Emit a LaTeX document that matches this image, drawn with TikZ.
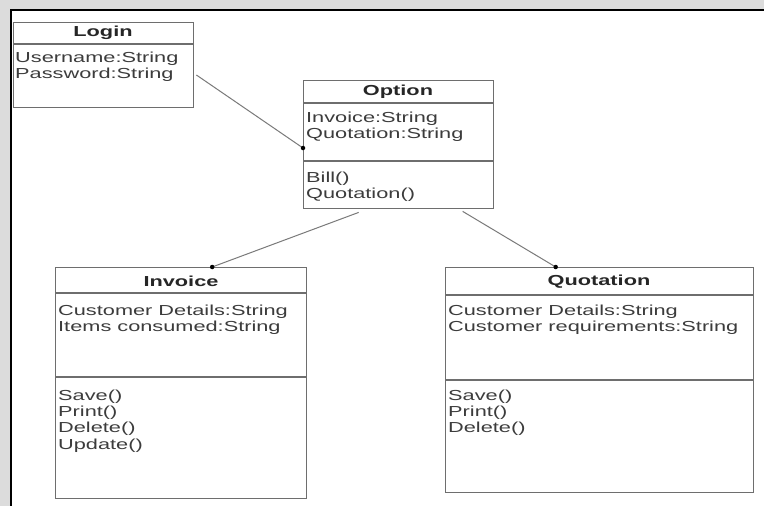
\documentclass[tikz,border=0pt]{standalone}
\usepackage{fontspec}
\setmainfont{Liberation Sans}[FakeStretch=1.5]
\usetikzlibrary{calc}
\definecolor{boxgray}{HTML}{6E6E6E}
\definecolor{txtgray}{HTML}{3C3C3C}
\definecolor{linkgray}{HTML}{7A7A7A}
\definecolor{outergray}{HTML}{DCDCDC}
\begin{document}
\begin{tikzpicture}[x=1pt,y=-1pt,
  box/.style={draw=boxgray, line width=1.4pt, fill=white, anchor=north west, inner sep=0pt},
  sep/.style={draw=boxgray, line width=1.2pt},
  txt/.style={anchor=north west, inner sep=0pt, align=left, text=txtgray, font=\fontsize{14.5}{16.3}\selectfont},
  ttl/.style={inner sep=0pt, text=black!85, font=\bfseries\fontsize{14.5}{16.3}\selectfont},
  link/.style={draw=linkgray, line width=1pt},
  enddot/.style={circle, fill=black, minimum size=4.5pt, inner sep=0pt}]
\useasboundingbox (0,0) rectangle (764,506);
\fill[outergray] (0,0) rectangle (764,506);
\fill[white] (11,10) rectangle (764,506);
\draw[line width=2.2pt] (11,506) -- (11,10) -- (764,10);

% Login
\node[box, minimum width=180pt, minimum height=85pt] (login) at (13,22) {};
\draw[sep] (login.west |- 0,44) -- (login.east |- 0,44);
\node[ttl] (loginT) at (103,33) {Login};
\node[txt] (loginA) at (15,51.5) {Username:String\\Password:String};

% Option
\node[box, minimum width=190pt, minimum height=128pt] (option) at (303,80) {};
\draw[sep] (option.west |- 0,103) -- (option.east |- 0,103);
\draw[sep] (option.west |- 0,161) -- (option.east |- 0,161);
\node[ttl] (optionT) at (398,92) {Option};
\node[txt] (optionA) at (306,111.5) {Invoice:String\\Quotation:String};
\node[txt] (optionM) at (306,171.5) {Bill()\\Quotation()};

% Invoice
\node[box, minimum width=251pt, minimum height=231pt] (invoice) at (55,267) {};
\draw[sep] (invoice.west |- 0,293) -- (invoice.east |- 0,293);
\draw[sep] (invoice.west |- 0,377) -- (invoice.east |- 0,377);
\node[ttl] (invoiceT) at (181,281) {Invoice};
\node[txt] (invoiceA) at (58,304.5) {Customer Details:String\\Items consumed:String};
\node[txt] (invoiceM) at (58,389.5) {Save()\\Print()\\Delete()\\Update()};

% Quotation
\node[box, minimum width=308pt, minimum height=225pt] (quot) at (445,267) {};
\draw[sep] (quot.west |- 0,295) -- (quot.east |- 0,295);
\draw[sep] (quot.west |- 0,380) -- (quot.east |- 0,380);
\node[ttl] (quotT) at (599,282) {Quotation};
\node[txt] (quotA) at (448,304.5) {Customer Details:String\\Customer requirements:String};
\node[txt] (quotM) at (448,389.5) {Save()\\Print()\\Delete()};

% links
\coordinate (l1s) at ($(login.north east)+(2,53)$);
\coordinate (l1e) at ($(option.north west)+(0,68)$);
\draw[link] (l1s) -- (l1e);
\node[enddot] (d1) at (l1e) {};

\coordinate (l2s) at ($(option.south)+(-40,3)$);
\coordinate (l2e) at ($(invoice.north)+(31,0)$);
\draw[link] (l2s) -- (l2e);
\node[enddot] (d2) at (l2e) {};

\coordinate (l3s) at ($(option.south)+(64,2)$);
\coordinate (l3e) at ($(quot.north)+(-44,0)$);
\draw[link] (l3s) -- (l3e);
\node[enddot] (d3) at (l3e) {};
\end{tikzpicture}
\end{document}
